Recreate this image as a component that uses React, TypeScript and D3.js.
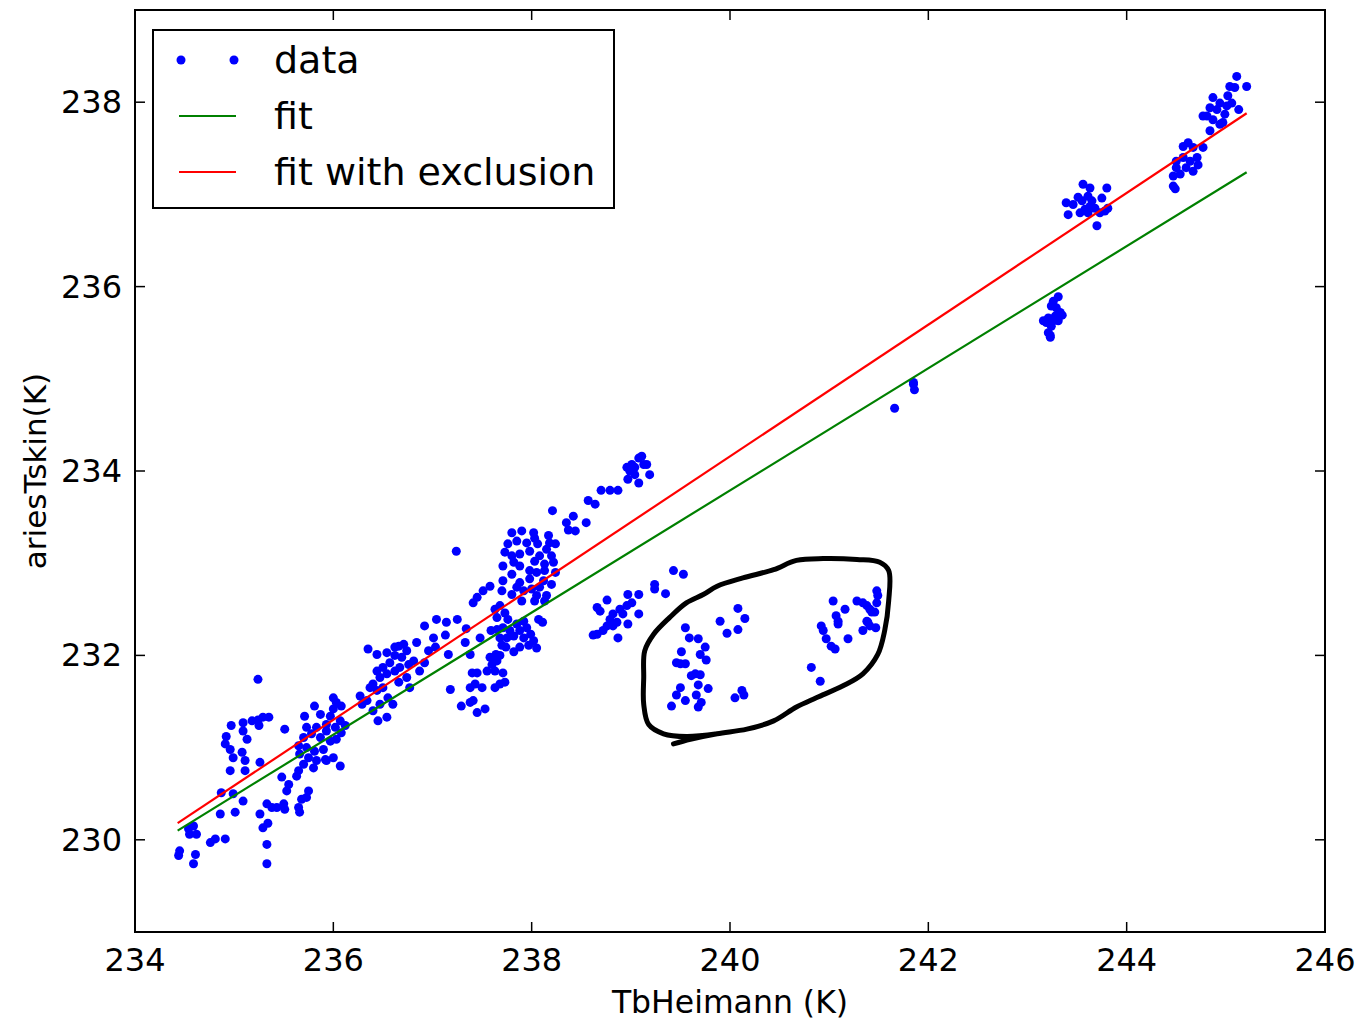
import React from "react";
import * as d3 from "d3";

// ---- data (TbHeimann K, ariesTskin K) ----
const lowCluster: [number, number][] = [
  [235.24,231.74],[234.97,231.24],[234.92,231.12],[234.91,231.04],[234.96,230.98],[234.99,230.89],[235.08,230.95],[235.09,231.18],[235.13,231.09],[234.96,230.75],[235.11,230.75],[235.11,230.86],[235.09,231.27],[235.18,231.29],[235.24,231.30],[235.29,231.33],[235.35,231.33],[235.25,231.24],[235.51,231.20],[235.26,230.84],[234.87,230.51],[234.99,230.50],[235.09,230.42],[235.01,230.30],[234.86,230.28],[234.45,229.88],[234.44,229.83],[234.61,229.84],[234.59,229.74],[234.55,230.06],[234.62,230.06],[234.54,230.12],[234.59,230.15],[234.76,229.97],[234.81,230.01],[234.91,230.01],[235.33,230.39],[235.38,230.35],[235.43,230.35],[235.50,230.39],[235.51,230.33],[235.26,230.28],[235.34,230.18],[235.29,230.13],[235.33,229.95],[235.33,229.74],[235.65,230.35],[235.66,230.30],[235.68,230.44],[235.73,230.46],[235.75,230.53],[235.53,230.53],[235.55,230.60],[235.48,230.68],
  [235.71,231.34],[235.81,231.45],[235.87,231.36],[235.93,231.25],[236.00,231.54],[236.03,231.49],[236.08,231.45],[236.00,231.42],[235.97,231.34],[236.07,231.29],[236.12,231.24],[236.02,231.22],[235.83,231.22],[235.73,231.22],[235.70,231.11],[235.78,231.15],[235.87,231.11],[235.93,231.18],[235.97,231.07],[236.03,231.09],[236.08,231.16],[235.65,231.02],[235.73,231.00],[235.81,230.96],[235.90,230.98],[235.92,230.87],[235.83,230.86],[235.75,230.89],[235.66,230.93],[235.70,230.82],[235.80,230.78],[235.65,230.75],[235.63,230.69],[236.07,230.80],[236.00,230.89],[235.93,230.86],
];

const midCluster: [number, number][] = [
  [236.35,232.07],[236.44,232.01],[236.54,232.03],[236.62,232.09],[236.66,232.10],[236.71,232.12],[236.74,232.05],[236.69,231.98],[236.62,232.00],[236.57,231.92],[236.50,231.87],[236.44,231.83],[236.47,231.76],[236.54,231.80],[236.62,231.83],[236.67,231.87],[236.76,231.90],[236.81,231.94],[236.84,232.14],[236.40,231.69],[236.44,231.62],[236.50,231.65],[236.55,231.54],[236.60,231.47],[236.47,231.47],[236.40,231.40],[236.45,231.29],[236.54,231.33],[236.27,231.56],[236.29,231.47],[236.34,231.51],[236.37,231.65],[236.66,231.71],[236.74,231.76],[236.77,231.65],
];

const cluster238: [number, number][] = [
  [236.92,232.32],[237.04,232.39],[237.14,232.36],[237.25,232.39],[237.34,232.29],[237.13,232.22],[237.01,232.19],[237.33,232.14],[237.48,232.19],[236.96,232.05],[237.03,232.09],[237.16,232.01],[236.92,231.92],[236.87,231.83],[237.38,232.01],[237.24,233.13],[237.41,232.57],[237.45,232.63],[237.51,232.70],[237.58,232.75],
  [237.18,231.63],[237.29,231.45],[237.40,231.81],[237.45,231.81],[237.38,231.65],[237.43,231.69],[237.50,231.65],[237.41,231.51],[237.38,231.49],[237.45,231.38],[237.53,231.42],[237.55,231.83],[237.60,231.90],[237.65,231.94],[237.68,232.00],[237.58,231.98],[237.63,231.83],[237.71,231.81],[237.68,231.69],[237.73,231.71],[237.63,231.65],
  [237.68,232.54],[237.63,232.50],[237.73,232.46],[237.65,232.41],[237.76,232.39],[237.85,232.34],[237.92,232.37],[237.95,232.30],[237.88,232.27],[237.78,232.27],[237.71,232.30],[237.65,232.28],[237.59,232.27],[237.68,232.19],[237.75,232.19],[237.82,232.21],[237.92,232.19],[237.99,232.23],[238.07,232.39],[238.11,232.36],[238.02,232.16],[237.97,232.11],[238.05,232.08],[237.88,232.09],[237.82,232.04],[237.74,232.09],[237.70,232.11],[237.64,232.01],
  [237.80,233.33],[237.90,233.35],[238.02,233.33],[238.03,233.27],[237.95,233.22],[237.85,233.24],[237.76,233.21],[237.73,233.12],[237.80,233.08],[237.88,233.10],[237.98,233.13],[238.06,233.21],[238.17,233.30],[238.18,233.22],[238.24,233.21],[238.15,233.15],[238.08,233.08],[238.20,233.08],[238.22,233.01],[238.13,232.99],[238.03,233.02],[237.98,232.92],[237.88,232.97],[237.82,233.01],[237.71,232.97],[237.80,232.88],[237.71,232.81],[237.88,232.79],[237.98,232.83],[238.05,232.90],[238.13,232.92],[238.24,232.90],[238.12,232.81],[238.20,232.77],[238.08,232.74],[238.00,232.72],[237.92,232.70],[237.85,232.74],[237.80,232.66],[237.70,232.70],[238.05,232.65],[238.15,232.65],[238.13,232.59],[238.03,232.59],[237.90,232.59],
  [238.21,233.57],[238.57,233.68],[238.35,233.44],[238.42,233.51],[238.37,233.36],[238.44,233.35],[238.55,233.44],
];

const cluster239: [number, number][] = [
  [238.64,233.64],[238.70,233.79],[238.79,233.79],[238.87,233.79],[238.96,234.04],[238.99,234.00],[239.01,234.07],[239.08,234.14],[239.11,234.16],[239.13,234.07],[239.16,234.07],[239.19,233.96],[239.04,233.96],[238.97,233.91],[239.08,233.87],[239.04,234.04],
  [239.43,232.92],[239.53,232.88],[239.24,232.77],[239.24,232.72],[239.35,232.67],[239.08,232.66],[238.97,232.66],[239.01,232.57],[238.96,232.54],[238.76,232.60],[238.66,232.52],[238.69,232.48],[238.89,232.50],[238.92,232.45],[238.82,232.45],[238.79,232.39],[239.08,232.45],[238.86,232.36],[238.76,232.32],[238.97,232.34],[238.72,232.27],[238.66,232.23],[238.62,232.22],[238.87,232.19],[238.82,232.32],
];

const excluded: [number, number][] = [
  [239.55,232.30],[239.59,232.19],[239.68,232.18],[239.75,232.09],[239.51,232.04],[239.70,232.01],[239.76,231.95],[239.46,231.92],[239.50,231.91],[239.55,231.91],[239.65,231.80],[239.61,231.78],[239.70,231.79],[239.68,231.68],[239.78,231.64],[239.50,231.65],[239.46,231.57],[239.66,231.57],[239.55,231.51],[239.71,231.49],[239.68,231.44],[239.41,231.45],
  [239.90,232.37],[239.97,232.24],[240.08,232.51],[240.15,232.40],[240.08,232.28],[240.05,231.54],[240.12,231.62],[240.14,231.57],
  [240.82,231.87],[240.91,231.72],[240.92,232.32],[240.94,232.27],[240.97,232.18],[241.02,232.10],[241.06,232.07],[241.04,232.59],[241.07,232.43],[241.09,232.37],[241.09,232.34],[241.16,232.50],[241.19,232.18],[241.28,232.59],[241.34,232.57],[241.38,232.54],[241.41,232.50],[241.43,232.47],[241.48,232.70],[241.49,232.65],[241.48,232.57],[241.46,232.47],[241.38,232.37],[241.34,232.27],[241.41,232.32],[241.47,232.30],[241.39,232.36],
];

const highClusters: [number, number][] = [
  [241.66,234.68],[241.85,234.96],[241.85,234.94],[241.86,234.88],
  [243.31,235.89],[243.26,235.84],[243.24,235.79],[243.29,235.77],[243.33,235.72],[243.35,235.69],[243.28,235.68],[243.21,235.66],[243.16,235.63],[243.19,235.61],[243.26,235.63],[243.31,235.63],[243.24,235.57],[243.21,235.50],[243.23,235.45],[243.23,235.47],
  [243.56,237.11],[243.63,237.07],[243.80,237.07],[243.51,236.97],[243.39,236.91],[243.46,236.89],[243.55,236.93],[243.61,236.98],[243.65,236.93],[243.58,236.84],[243.53,236.80],[243.41,236.78],[243.68,236.85],[243.73,236.80],[243.78,236.82],[243.81,236.85],[243.75,236.96],[243.70,236.66],[243.61,236.80],[243.63,236.87],
  [244.57,237.52],[244.62,237.56],[244.67,237.51],[244.77,237.51],[244.50,237.36],[244.57,237.40],[244.64,237.36],[244.71,237.40],[244.72,237.32],[244.60,237.29],[244.67,237.25],[244.47,237.20],[244.50,237.29],[244.54,237.22],[244.47,237.09],[244.49,237.06],
  [245.11,238.28],[245.04,238.17],[245.21,238.17],[245.09,238.16],[244.87,238.05],[245.02,238.07],[244.94,237.99],[245.01,237.96],[244.84,237.94],[244.91,237.92],[244.81,237.85],[244.77,237.85],[244.87,237.81],[244.94,237.76],[244.97,237.78],[244.84,237.69],[245.13,237.92],[244.99,237.87],[245.06,237.99],
];

const fitX = [234.43, 245.21];
const fitY = [230.10, 237.24];
const exclFitY = [230.18, 237.88];

// hand-drawn exclusion loop (data coords)
const loop: [number, number][] = [
  [239.43,231.04],[239.60,231.09],[239.87,231.15],[240.17,231.20],[240.44,231.29],[240.67,231.44],[240.87,231.54],[241.14,231.67],[241.34,231.80],[241.49,232.01],[241.56,232.27],[241.60,232.59],[241.60,232.92],[241.51,233.01],[241.28,233.04],[240.94,233.05],[240.67,233.03],[240.44,232.93],[240.13,232.84],[239.87,232.75],[239.73,232.66],[239.56,232.57],[239.39,232.41],[239.23,232.23],[239.14,232.05],[239.13,231.76],[239.13,231.47],[239.18,231.25],[239.33,231.15],[239.56,231.12],[239.87,231.15],
];

const xTicks = [234, 236, 238, 240, 242, 244, 246];
const yTicks = [230, 232, 234, 236, 238];
const legendLabels = ["data", "fit", "fit with exclusion"];

const W = 1359, H = 1026;
const L = 135, R = 1325, T = 10, B = 932;
const FONT = "DejaVu Sans, Verdana, sans-serif";

export default function App() {
  const x = d3.scaleLinear().domain([234, 246]).range([L, R]);
  const y = d3.scaleLinear().domain([229, 239]).range([B, T]);
  const points = [...lowCluster, ...midCluster, ...cluster238, ...cluster239, ...excluded, ...highClusters];
  const lineGen = d3.line<[number, number]>().x(d => x(d[0])).y(d => y(d[1]));
  const loopGen = d3.line<[number, number]>().x(d => x(d[0])).y(d => y(d[1])).curve(d3.curveCatmullRom.alpha(0.5));
  const fitPts = fitX.map((v, i) => [v, fitY[i]] as [number, number]);
  const exclPts = fitX.map((v, i) => [v, exclFitY[i]] as [number, number]);
  const tickLen = 10;
  return (
    <svg width={W} height={H} style={{ position: "absolute", left: 0, top: 0, background: "#fff" }} fontFamily={FONT}>
      <rect x={0} y={0} width={W} height={H} fill="#fff" />
      <g>
        {points.map((p, i) => (
          <circle key={i} cx={x(p[0])} cy={y(p[1])} r={4.5} fill="#0000ff" />
        ))}
      </g>
      <path d={lineGen(fitPts) || ""} stroke="#008000" strokeWidth={2.2} fill="none" />
      <path d={lineGen(exclPts) || ""} stroke="#ff0000" strokeWidth={2.2} fill="none" />
      <path d={loopGen(loop) || ""} stroke="#000" strokeWidth={5} fill="none" strokeLinecap="round" strokeLinejoin="round" />
      {/* frame */}
      <rect x={L} y={T} width={R - L} height={B - T} fill="none" stroke="#000" strokeWidth={2} />
      {xTicks.map(t => (
        <g key={"x" + t}>
          <line x1={x(t)} x2={x(t)} y1={B} y2={B - tickLen} stroke="#000" strokeWidth={1.5} />
          <line x1={x(t)} x2={x(t)} y1={T} y2={T + tickLen} stroke="#000" strokeWidth={1.5} />
          <text x={x(t)} y={971} textAnchor="middle" fontSize={32} fill="#000">{t}</text>
        </g>
      ))}
      {yTicks.map(t => (
        <g key={"y" + t}>
          <line x1={L} x2={L + tickLen} y1={y(t)} y2={y(t)} stroke="#000" strokeWidth={1.5} />
          <line x1={R} x2={R - tickLen} y1={y(t)} y2={y(t)} stroke="#000" strokeWidth={1.5} />
          <text x={122} y={y(t)} textAnchor="end" dominantBaseline="central" fontSize={32} fill="#000">{t}</text>
        </g>
      ))}
      <text x={(L + R) / 2} y={1013} textAnchor="middle" fontSize={31.5} fill="#000">TbHeimann (K)</text>
      <text transform={`translate(35,${(T + B) / 2}) rotate(-90)`} textAnchor="middle" dominantBaseline="central" fontSize={31} fill="#000">ariesTskin(K)</text>
      {/* legend */}
      <g>
        <rect x={153} y={30} width={461} height={178} fill="#fff" stroke="#000" strokeWidth={2} />
        <circle cx={181} cy={60} r={4.5} fill="#0000ff" />
        <circle cx={234} cy={60} r={4.5} fill="#0000ff" />
        <line x1={179} x2={236} y1={116} y2={116} stroke="#008000" strokeWidth={2.2} />
        <line x1={179} x2={236} y1={172} y2={172} stroke="#ff0000" strokeWidth={2.2} />
        {legendLabels.map((lab, i) => (
          <text key={lab} x={274} y={73 + i * 56} fontSize={38} fill="#000">{lab}</text>
        ))}
      </g>
    </svg>
  );
}
